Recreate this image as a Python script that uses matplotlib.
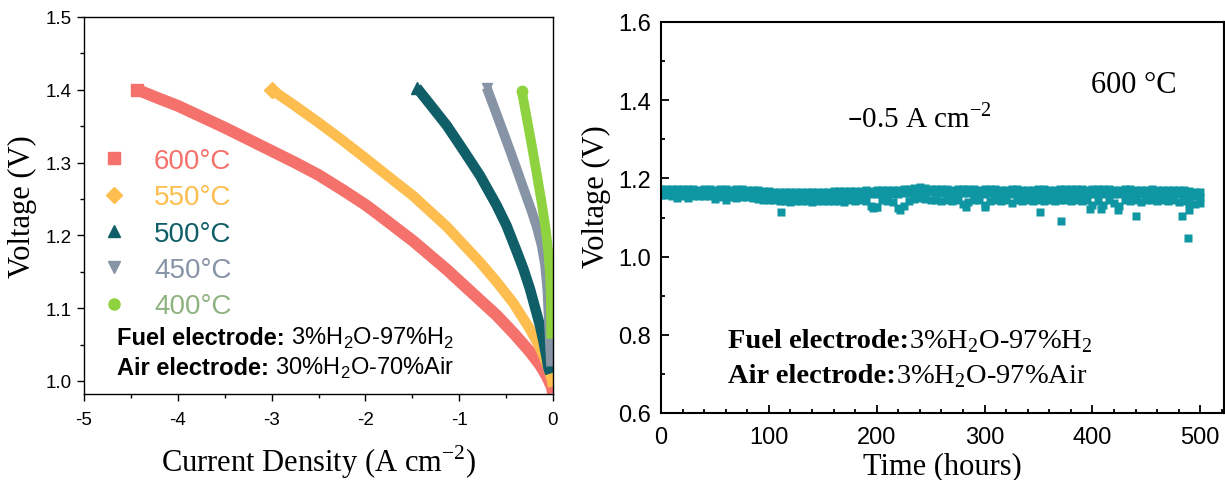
import numpy as np
import matplotlib
matplotlib.use("Agg")
import matplotlib.pyplot as plt
from matplotlib.lines import Line2D
from matplotlib.ticker import MultipleLocator, FormatStrFormatter
from matplotlib.transforms import offset_copy

SANS = "Liberation Sans"
SERIF = "Liberation Serif"
plt.rcParams["axes.unicode_minus"] = False

# ---------------- polarization curves (electrolysis mode) ----------------
temps = ["600°C", "550°C", "500°C", "450°C", "400°C"]

j_600 = [-4.43, -4.20, -4.00, -3.75, -3.50, -3.25, -3.00, -2.75, -2.50, -2.25, -2.00,
         -1.844, -1.489, -1.133, -0.778, -0.600, -0.423, -0.245, -0.139, -0.068, -0.014, 0.0]
v_600 = [1.400, 1.388, 1.378, 1.363, 1.348, 1.332, 1.316, 1.300, 1.283, 1.263, 1.242,
         1.227, 1.192, 1.153, 1.111, 1.090, 1.066, 1.040, 1.022, 1.007, 0.992, 0.983]

j_550 = [-3.00, -2.75, -2.50, -2.25, -2.00, -1.844, -1.489, -1.133, -0.778, -0.600,
         -0.423, -0.245, -0.139, -0.068, -0.014, 0.0]
v_550 = [1.400, 1.378, 1.355, 1.331, 1.306, 1.290, 1.254, 1.212, 1.163, 1.136,
         1.107, 1.071, 1.046, 1.024, 1.002, 0.992]

j_500 = [-1.453, -1.311, -1.133, -0.956, -0.778, -0.600, -0.494, -0.387, -0.316,
         -0.245, -0.192, -0.139, -0.103, -0.068, -0.050, -0.030]
v_500 = [1.403, 1.380, 1.351, 1.317, 1.282, 1.241, 1.213, 1.178, 1.154,
         1.126, 1.101, 1.076, 1.055, 1.032, 1.018, 1.010]

j_450 = [-0.707, -0.600, -0.494, -0.387, -0.316, -0.227, -0.174, -0.121, -0.085,
         -0.060, -0.045, -0.032, -0.020]
v_450 = [1.403, 1.366, 1.329, 1.291, 1.265, 1.233, 1.212, 1.186, 1.160,
         1.125, 1.085, 1.050, 1.020]

j_400 = [-0.334, -0.281, -0.227, -0.174, -0.121, -0.078, -0.050, -0.032, -0.022, -0.018]
v_400 = [1.399, 1.362, 1.324, 1.285, 1.245, 1.208, 1.177, 1.147, 1.110, 1.058]

curve_j = [j_600, j_550, j_500, j_450, j_400]
curve_v = [v_600, v_550, v_500, v_450, v_400]
curve_colors = ["#F4726B", "#FDBE4F", "#105F68", "#8794A6", "#8ED33F"]
label_colors = ["#F4726B", "#FDBE4F", "#105F68", "#8794A6", "#8FB380"]
curve_markers = ["s", "D", "^", "v", "o"]
curve_widths = [8.5, 7.5, 7.5, 7, 7]

# ---------------- long-term stability at -0.5 A cm-2, 600 °C ----------------
hours = np.arange(0, 501, 5)
v_top = [
    1.173, 1.172, 1.173, 1.172, 1.172, 1.173, 1.172, 1.171, 1.172, 1.172,
    1.171, 1.172, 1.172, 1.171, 1.172, 1.172, 1.171, 1.170, 1.170,
    1.168, 1.167, 1.166, 1.165, 1.164, 1.164, 1.165, 1.164, 1.164, 1.165,
    1.165, 1.166, 1.166, 1.167,
    1.168, 1.168, 1.169, 1.168, 1.169, 1.170, 1.169, 1.170, 1.170, 1.171,
    1.170, 1.171, 1.172, 1.173,
    1.176, 1.177, 1.176, 1.174,
    1.172, 1.173, 1.172, 1.171, 1.172, 1.173, 1.173, 1.172, 1.171, 1.172,
    1.173, 1.172, 1.171, 1.171, 1.172, 1.172, 1.171, 1.170, 1.171, 1.172,
    1.172, 1.171, 1.171, 1.172, 1.172, 1.173, 1.172, 1.172, 1.171, 1.172,
    1.172, 1.173, 1.172, 1.171, 1.171, 1.172, 1.172, 1.171, 1.170, 1.171,
    1.172, 1.171, 1.170, 1.171, 1.171, 1.170, 1.170, 1.168, 1.166, 1.165,
]
v_mid = [
    1.165, 1.164, 1.164, 1.163, 1.164, 1.163, 1.163, 1.162, 1.163, 1.163,
    1.162, 1.162, 1.163, 1.162, 1.162, 1.161, 1.160, 1.159, 1.158,
    1.157, 1.156, 1.155, 1.154, 1.154, 1.153, 1.153, 1.153, 1.154, 1.154,
    1.154, 1.155, 1.155, 1.156,
    1.157, 1.157, 1.158, 1.158, 1.158, 1.159, 1.159, 1.159, 1.160, 1.160,
    1.160, 1.161, 1.162, 1.163,
    1.165, 1.166, 1.165, 1.164,
    1.162, 1.162, 1.161, 1.161, 1.162, 1.162, 1.162, 1.161, 1.161, 1.161,
    1.162, 1.161, 1.161, 1.160, 1.161, 1.161, 1.160, 1.160, 1.160, 1.161,
    1.161, 1.160, 1.160, 1.161, 1.161, 1.161, 1.161, 1.160, 1.160, 1.161,
    1.161, 1.161, 1.160, 1.160, 1.160, 1.161, 1.160, 1.160, 1.159, 1.160,
    1.160, 1.160, 1.159, 1.160, 1.159, 1.159, 1.158, 1.156, 1.154, 1.152,
]
v_low = [
    1.158, 1.157, 1.156, 1.150, 1.155, 1.151, 1.155, 1.154, 1.155, 1.154,
    1.147, 1.153, 1.146, 1.152, 1.149, 1.153, 1.152, 1.150, 1.147,
    1.144, 1.146, 1.144, 1.143, 1.142, 1.140, 1.142, 1.141, 1.143, 1.140,
    1.142, 1.141, 1.143, 1.142,
    1.143, 1.140, 1.144, 1.142, 1.145, 1.143, 1.130, 1.128, 1.144, 1.142,
    1.140, 1.125, 1.130, 1.143,
    1.148, 1.150, 1.147, 1.146,
    1.145, 1.143, 1.146, 1.142, 1.145, 1.134, 1.140, 1.145, 1.144, 1.133,
    1.143, 1.145, 1.141, 1.144, 1.138, 1.145, 1.143, 1.144, 1.142, 1.145,
    1.143, 1.145, 1.141, 1.144, 1.146, 1.143, 1.145, 1.142, 1.144, 1.132,
    1.143, 1.131, 1.144, 1.137, 1.130, 1.144, 1.142, 1.145, 1.140, 1.144,
    1.146, 1.141, 1.144, 1.143, 1.145, 1.140, 1.142, 1.138, 1.135, 1.136,
]
spike_hours = [111, 197, 199, 222, 283, 300, 351, 371, 398, 408, 424, 440, 483, 490, 489]
spike_volts = [1.114, 1.124, 1.127, 1.119, 1.128, 1.126, 1.113, 1.092, 1.121, 1.122,
               1.119, 1.105, 1.104, 1.118, 1.047]
stab_color = "#0E97A3"

# ---------------- figure ----------------
W, H = 1225, 481
fig = plt.figure(figsize=(W / 100, H / 100), dpi=100)
ax1 = fig.add_axes([84 / W, 1 - 395 / H, (553 - 84) / W, (395 - 18) / H])
ax2 = fig.add_axes([661 / W, 1 - 414 / H, (1224 - 661) / W, (414 - 23) / H])


def rich_line(ax, x, y, bold, rest, family, size):
    """Bold lead-in followed by regular text on the same baseline."""
    t1 = ax.text(x, y, bold, family=family, fontweight="bold", fontsize=size,
                 ha="left", va="baseline")
    width = t1.get_window_extent(fig.canvas.get_renderer()).width
    ax.text(x, y, rest, family=family, fontsize=size, ha="left", va="baseline",
            transform=offset_copy(ax.transData, fig=fig, x=width, y=0, units="dots"))


# left panel
for j, v, c, m, w in zip(curve_j, curve_v, curve_colors, curve_markers, curve_widths):
    ax1.plot(j, v, color=c, lw=w, solid_capstyle="butt", solid_joinstyle="round",
             marker=m, ms=w + 0.5, markevery=[0], mec=c, mfc=c)

ax1.set_xlim(-5, 0)
ax1.set_ylim(0.982, 1.5)
ax1.xaxis.set_major_locator(MultipleLocator(1))
ax1.xaxis.set_minor_locator(MultipleLocator(0.5))
ax1.yaxis.set_major_locator(MultipleLocator(0.1))
ax1.yaxis.set_minor_locator(MultipleLocator(0.05))
ax1.xaxis.set_major_formatter(FormatStrFormatter("%d"))
ax1.yaxis.set_major_formatter(FormatStrFormatter("%.1f"))
ax1.tick_params(which="both", direction="out", top=False, right=False, width=1.0)
ax1.tick_params(which="major", length=5)
ax1.tick_params(which="minor", length=3)
ax1.tick_params(axis="x", which="major", pad=7)
ax1.tick_params(axis="y", which="major", pad=4)
for lab in ax1.get_xticklabels() + ax1.get_yticklabels():
    lab.set_family(SANS)
    lab.set_fontsize(13.5)
for s in ax1.spines.values():
    s.set_linewidth(1.0)

ax1.set_xlabel("Current Density (A cm$^\\mathregular{-2}$)", family=SERIF, fontsize=22)
ax1.xaxis.set_label_coords(0.50, -0.178)
ax1.xaxis.label.set_va("center")
ax1.set_ylabel("Voltage (V)", family=SERIF, fontsize=22)
ax1.yaxis.set_label_coords(-0.132, 0.50)
ax1.yaxis.label.set_va("center")

handles = [Line2D([], [], ls="none", marker=m, color=c, ms=8)
           for m, c in zip(curve_markers, curve_colors)]
leg = ax1.legend(handles, temps, loc="upper left", bbox_to_anchor=(0.034, 0.652),
                 frameon=False, prop={"family": SANS, "size": 20}, handlelength=1.0,
                 handletextpad=0.95, labelspacing=0.37, borderaxespad=0, borderpad=0)
for txt, c in zip(leg.get_texts(), label_colors):
    txt.set_color(c)

rich_line(ax1, -4.648, 1.051, "Fuel electrode:",
          " 3%H$_\\mathregular{2}$O-97%H$_\\mathregular{2}$", SANS, 17)
rich_line(ax1, -4.648, 1.010, "Air electrode:",
          " 30%H$_\\mathregular{2}$O-70%Air", SANS, 17)

# right panel
for vals in (v_top, v_mid, v_low):
    ax2.plot(hours, vals, ls="none", marker="s", ms=5.4, color=stab_color, mec="none")
ax2.plot(spike_hours, spike_volts, ls="none", marker="s", ms=5.4, color=stab_color, mec="none")

ax2.set_xlim(0, 522)
ax2.set_ylim(0.6, 1.6)
ax2.xaxis.set_major_locator(MultipleLocator(100))
ax2.xaxis.set_minor_locator(MultipleLocator(20))
ax2.yaxis.set_major_locator(MultipleLocator(0.2))
ax2.yaxis.set_minor_locator(MultipleLocator(0.1))
ax2.yaxis.set_major_formatter(FormatStrFormatter("%.1f"))
ax2.tick_params(which="both", direction="in", top=False, right=False, width=1.3)
ax2.tick_params(which="major", length=6)
ax2.tick_params(which="minor", length=3)
ax2.tick_params(axis="x", which="major", pad=9)
ax2.tick_params(axis="y", which="major", pad=7)
for lab in ax2.get_xticklabels() + ax2.get_yticklabels():
    lab.set_family(SANS)
    lab.set_fontsize(17)
for s in ax2.spines.values():
    s.set_linewidth(1.5)

ax2.set_xlabel("Time (hours)", family=SERIF, fontsize=22)
ax2.xaxis.set_label_coords(0.50, -0.135)
ax2.xaxis.label.set_va("center")
ax2.set_ylabel("Voltage (V)", family=SERIF, fontsize=22)
ax2.yaxis.set_label_coords(-0.115, 0.555)
ax2.yaxis.label.set_va("center")

ax2.text(399, 1.421, "600 °C", family=SERIF, fontsize=22, ha="left", va="baseline")
ax2.text(172, 1.334, "\u20130.5 A cm$^\\mathregular{-2}$", family=SERIF, fontsize=21,
         ha="left", va="baseline")
rich_line(ax2, 62, 0.769, "Fuel electrode:",
          "3%H$_\\mathregular{2}$O-97%H$_\\mathregular{2}$", SERIF, 20.5)
rich_line(ax2, 62, 0.679, "Air electrode:",
          "3%H$_\\mathregular{2}$O-97%Air", SERIF, 20.5)

fig.savefig("out.png", dpi=100)
